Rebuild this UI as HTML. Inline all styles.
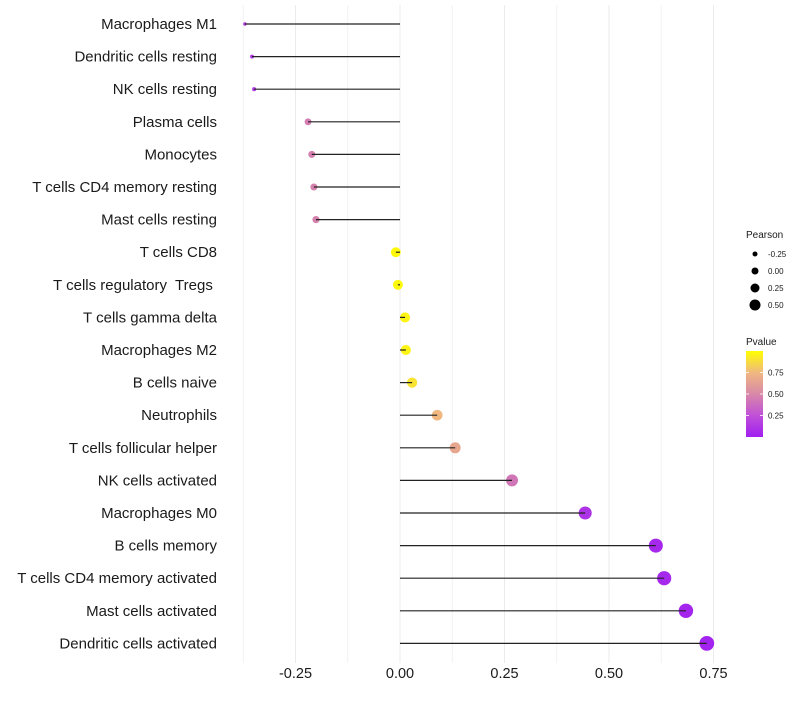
<!DOCTYPE html>
<html><head><meta charset="utf-8"><style>
body{margin:0;background:#fff;font-family:"Liberation Sans",sans-serif}
text{white-space:pre}
</style></head><body>
<svg id="chart" width="800" height="700" xmlns="http://www.w3.org/2000/svg" font-family="Liberation Sans, sans-serif">
<defs><linearGradient id="pg" x1="0" y1="1" x2="0" y2="0">
<stop offset="0" stop-color="#a020f0"/><stop offset="0.25" stop-color="#c050d8"/><stop offset="0.5" stop-color="#d888a8"/><stop offset="0.75" stop-color="#f0b880"/><stop offset="1" stop-color="#ffff00"/></linearGradient></defs>
<g id="grid"></g><g id="marks"></g><g id="labels"></g><g id="legend"></g>
</svg>
<script>
const categories=["Macrophages M1","Dendritic cells resting","NK cells resting","Plasma cells","Monocytes","T cells CD4 memory resting","Mast cells resting","T cells CD8","T cells regulatory  Tregs ","T cells gamma delta","Macrophages M2","B cells naive","Neutrophils","T cells follicular helper","NK cells activated","Macrophages M0","B cells memory","T cells CD4 memory activated","Mast cells activated","Dendritic cells activated"];
const pearson=[-0.371,-0.354,-0.349,-0.220,-0.211,-0.206,-0.201,-0.010,-0.005,0.012,0.014,0.029,0.089,0.132,0.268,0.443,0.612,0.632,0.684,0.734];
const pvalue=[0.12,0.13,0.13,0.45,0.46,0.47,0.47,0.98,0.98,0.96,0.96,0.9,0.75,0.66,0.42,0.1,0.04,0.04,0.03,0.02];
const xTicks=[-0.25,0,0.25,0.5,0.75];
const xTickLabels=["-0.25","0.00","0.25","0.50","0.75"];
const xMinor=[-0.375,-0.125,0.125,0.375,0.625];
const NS="http://www.w3.org/2000/svg";
const xs=v=>400+v*418;
const ys=i=>24+i*32.6;
const rs=v=>Math.sqrt(Math.max(3,25+(v<0?60:40)*v));
const rl=v=>3.5+4*v;
function lerp(a,b,t){return Math.round(a+(b-a)*t);}
const stops=[[0,[160,32,240]],[0.25,[192,80,216]],[0.5,[216,136,168]],[0.75,[240,184,128]],[1,[255,255,0]]];
function pcol(p){for(let k=0;k<stops.length-1;k++){const[a,ca]=stops[k],[b,cb]=stops[k+1];if(p<=b){const t=(p-a)/(b-a);return`rgb(${lerp(ca[0],cb[0],t)},${lerp(ca[1],cb[1],t)},${lerp(ca[2],cb[2],t)})`;}}return"rgb(255,255,0)";}
function mk(tag,attrs,parent,text){const e=document.createElementNS(NS,tag);for(const k in attrs)e.setAttribute(k,attrs[k]);if(text!==undefined)e.textContent=text;parent.appendChild(e);return e;}
const grid=document.getElementById('grid'),marks=document.getElementById('marks'),labels=document.getElementById('labels'),legend=document.getElementById('legend');
xMinor.forEach(v=>{const l=mk('line',{x1:xs(v),x2:xs(v),y1:5,y2:663,stroke:'#f2f2f2','stroke-width':1},grid);

});
xTicks.forEach((v,i)=>{const l=mk('line',{x1:xs(v),x2:xs(v),y1:5,y2:663,stroke:'#ebebeb','stroke-width':1},grid);


const t=mk('text',{x:xs(v),y:678,'text-anchor':'middle','font-size':14.5,fill:'#1a1a1a'},labels,xTickLabels[i]);

});
categories.forEach((c,i)=>{const y=ys(i);
const t=mk('text',{x:217,y:y+5,'text-anchor':'end','font-size':15,fill:'#1a1a1a'},labels,c);


const p=mk('circle',{cx:xs(pearson[i]),cy:y,r:rs(pearson[i]),fill:pcol(pvalue[i])},marks);


const l=mk('line',{x1:xs(0),x2:xs(pearson[i]),y1:y,y2:y,stroke:'#222','stroke-width':1.2},marks);

});
let t=mk('text',{x:746,y:238,'font-size':10,fill:'#1a1a1a'},legend,'Pearson');


const sizeVals=[-0.25,0,0.25,0.5],sizeLabs=["-0.25","0.00","0.25","0.50"];
sizeVals.forEach((v,i)=>{const y=254+i*17;
const c=mk('circle',{cx:755,cy:y,r:rl(v),fill:'#000'},legend);


const tt=mk('text',{x:768,y:y+3,'font-size':8,fill:'#1a1a1a'},legend,sizeLabs[i]);

});
t=mk('text',{x:746,y:345,'font-size':10,fill:'#1a1a1a'},legend,'Pvalue');


const bar=mk('rect',{x:746,y:351,width:17,height:86,fill:'url(#pg)'},legend);


const pTicks=[0.75,0.5,0.25];
pTicks.forEach(v=>{const y=437-v*86;
mk('line',{x1:746,x2:749,y1:y,y2:y,stroke:'#fff','stroke-width':0.8},legend);
mk('line',{x1:760,x2:763,y1:y,y2:y,stroke:'#fff','stroke-width':0.8},legend);
const tt=mk('text',{x:768,y:y+3,'font-size':8,fill:'#1a1a1a'},legend,v.toFixed(2));

});
</script>
</body></html>
